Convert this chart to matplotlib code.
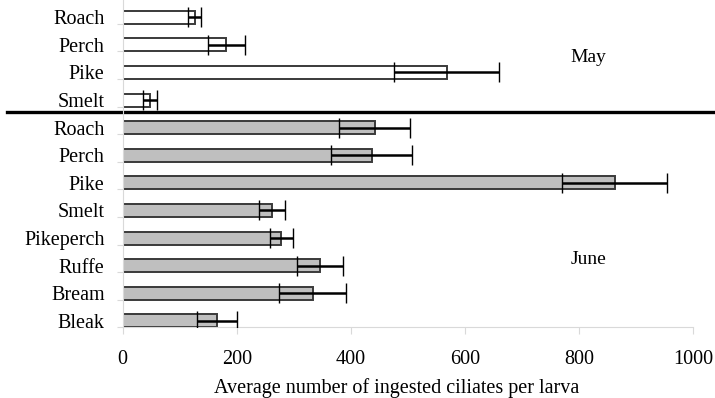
import matplotlib.pyplot as plt
import matplotlib.transforms as mtransforms

plt.rcParams['font.family'] = ['Liberation Serif', 'DejaVu Serif']

# mean ciliates per larva and error, top to bottom
may_fish = ['Roach', 'Perch', 'Pike', 'Smelt']
may_mean = [126, 182, 568, 48]
may_err = [12, 33, 92, 12]

june_fish = ['Roach', 'Perch', 'Pike', 'Smelt', 'Pikeperch', 'Ruffe', 'Bream', 'Bleak']
june_mean = [442, 437, 863, 262, 278, 346, 333, 166]
june_err = [62, 71, 92, 23, 20, 40, 59, 35]

xticks = [0, 200, 400, 600, 800, 1000]

fig = plt.figure(figsize=(7.15, 3.98), dpi=100)
ax = fig.add_axes([0.1716, 0.1776, 0.9692 - 0.1716, 1 - 0.1776])

n_may = len(may_fish)
names = may_fish + june_fish
pos_may = [i + 0.265 for i in range(n_may)]
pos_june = [n_may + i + 0.265 for i in range(len(june_fish))]

ax.barh(pos_may, may_mean, height=0.47, color='white', edgecolor='#3a3a3a', linewidth=1.4, zorder=2)
ax.barh(pos_june, june_mean, height=0.47, color='#BFBFBF', edgecolor='#3a3a3a', linewidth=1.4, zorder=2)
ax.errorbar(may_mean, pos_may, xerr=may_err, fmt='none', ecolor='black', elinewidth=1.8,
            capsize=7, capthick=1, zorder=3)
ax.errorbar(june_mean, pos_june, xerr=june_err, fmt='none', ecolor='black', elinewidth=1.8,
            capsize=7, capthick=1, zorder=3)

ax.set_xlim(0, 1000)
ax.set_ylim(len(names) - 0.5, -0.36)
ax.set_xticks(xticks)
ax.set_xticklabels([str(t) for t in xticks], fontsize=14.5)
ax.set_yticks(pos_may + pos_june)
ax.set_yticklabels(names, fontsize=14.5)
ax.set_yticks([i + 0.5 for i in range(len(names))], minor=True)
ax.tick_params(axis='y', which='major', length=0, pad=13)
ax.tick_params(axis='y', which='minor', length=4, width=0.8, color='#D9D9D9')
ax.tick_params(axis='x', length=5, width=0.8, color='#D9D9D9', pad=11)

for side in ['top', 'right']:
    ax.spines[side].set_visible(False)
for side in ['left', 'bottom']:
    ax.spines[side].set_color('#D9D9D9')
    ax.spines[side].set_linewidth(0.8)

ax.set_xlabel('Average number of ingested ciliates per larva', fontsize=14.5)
ax.xaxis.set_label_coords(0.48, -0.155)

# separator between the two months
trans = mtransforms.blended_transform_factory(fig.transFigure, ax.transData)
ax.plot([0.01, 1.0], [n_may - 0.31, n_may - 0.31], color='black', lw=2.4, transform=trans, clip_on=False)

ax.text(817, 1.74, 'May', fontsize=14, ha='center', va='center')
ax.text(817, 9.03, 'June', fontsize=14, ha='center', va='center')

fig.savefig('out.png', dpi=100)
